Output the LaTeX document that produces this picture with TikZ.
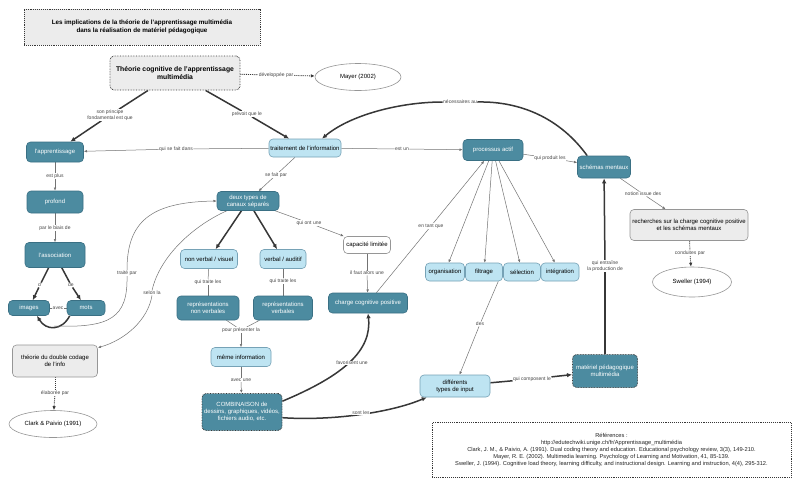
\documentclass[tikz,border=0pt]{standalone}
\usepackage{fontspec}
\setmainfont{Liberation Sans}
\usetikzlibrary{shapes.geometric,arrows.meta}
\pgfdeclarelayer{bg}
\pgfdeclarelayer{paper}
\pgfsetlayers{paper,bg,main}
\definecolor{tealA}{RGB}{76,139,160}
\definecolor{tealB}{RGB}{58,112,132}
\definecolor{lbA}{RGB}{190,228,242}
\definecolor{lbB}{RGB}{118,162,182}
\definecolor{gbA}{RGB}{236,236,236}
\definecolor{gbB}{RGB}{150,150,150}
\definecolor{lnK}{RGB}{55,55,55}
\definecolor{lnT}{RGB}{115,115,115}
\definecolor{txL}{RGB}{70,70,70}
\begin{document}
\begin{tikzpicture}[x=1pt,y=-1pt,
 box/.style={rectangle,rounded corners=4pt,align=center,inner sep=1pt,font=\fontsize{6}{7}\selectfont,line width=0.6pt},
 dark/.style={box,fill=tealA,draw=tealB,text=white},
 darkdot/.style={box,fill=tealA,draw=lnK,densely dotted,line width=0.9pt,text=white},
 light/.style={box,fill=lbA,draw=lbB,text=black},
 grey/.style={box,fill=gbA,draw=gbB},
 ell/.style={ellipse,draw=gbB,fill=white,inner sep=1pt,line width=0.6pt,font=\fontsize{6}{7}\selectfont},
 lbl/.style={fill=white,inner sep=0.4pt,font=\fontsize{5}{5.8}\selectfont,text=txL,align=center},
 tline/.style={draw=lnT,line width=0.5pt},
 tarr/.style={tline,-{Latex[length=3.2pt,width=2.6pt]}},
 kline/.style={draw=lnK,line width=1.5pt},
 karr/.style={kline,-{Latex[length=5pt,width=4.5pt]}},
 dotline/.style={draw=lnK,line width=0.9pt,densely dotted},
 dotarr/.style={dotline,-{Latex[length=4pt,width=3.5pt]}},
]
\useasboundingbox (0,0) rectangle (800,491);
\begin{pgfonlayer}{paper}
\fill[white] (0,0) rectangle (800,491);
\end{pgfonlayer}

% ---- concept nodes
\node[draw=lnK,densely dotted,line width=0.9pt,fill=gbA,minimum width=236pt,minimum height=36pt,align=center,font=\bfseries\fontsize{6.3}{7.6}\selectfont] (title) at (142,27) {Les implications de la théorie de l'apprentissage multimédia\\dans la réalisation de matériel pédagogique};
\node[grey,draw=lnK,densely dotted,line width=0.9pt,minimum width=130pt,minimum height=34pt,font=\bfseries\fontsize{6.8}{8.2}\selectfont] (theo) at (175,73) {Théorie cognitive de l'apprentissage\\multimédia};
\node[ell,minimum width=86pt,minimum height=27pt] (mayer) at (358,77) {Mayer (2002)};

\node[dark,minimum width=57pt,minimum height=20pt] (appr) at (55,152) {l'apprentissage};
\node[dark,minimum width=56pt,minimum height=22pt] (prof) at (55,202) {profond};
\node[dark,minimum width=60pt,minimum height=25pt] (assoc) at (55,255) {l'association};
\node[dark,minimum width=41pt,minimum height=15pt] (img) at (29,308) {images};
\node[dark,minimum width=38pt,minimum height=15pt] (mots) at (86,308) {mots};
\node[grey,minimum width=85pt,minimum height=32pt] (dbl) at (55,361) {théorie du double codage\\de l'info};
\node[ell,minimum width=88pt,minimum height=27pt] (clark) at (53,424) {Clark \& Paivio (1991)};

\node[light,minimum width=72pt,minimum height=18pt] (trait) at (305,148) {traitement de l'information};
\node[dark,minimum width=62pt,minimum height=19pt] (deux) at (248,201) {deux types de\\canaux séparés};
\node[light,minimum width=57pt,minimum height=19pt] (nv) at (209,259) {non verbal / visuel};
\node[light,minimum width=46pt,minimum height=19pt] (vb) at (283,259) {verbal / auditif};
\node[box,draw=gbB,fill=white,minimum width=47pt,minimum height=17pt] (capa) at (367,245) {capacité limitée};
\node[dark,minimum width=62pt,minimum height=24pt] (rnv) at (208,308) {représentations\\non verbales};
\node[dark,minimum width=59pt,minimum height=24pt] (rv) at (283,308) {représentations\\verbales};
\node[dark,minimum width=79pt,minimum height=20pt] (charge) at (368,303) {charge cognitive positive};
\node[light,minimum width=60pt,minimum height=19pt] (meme) at (241,357) {même information};
\node[darkdot,minimum width=80pt,minimum height=37pt] (comb) at (242,412) {COMBINAISON de\\dessins, graphiques, vidéos,\\fichiers audio, etc.};

\node[dark,minimum width=60pt,minimum height=21pt] (proc) at (493,150) {processus actif};
\node[dark,minimum width=53pt,minimum height=22pt] (schem) at (604,167) {schémas mentaux};
\node[light,minimum width=39pt,minimum height=18pt] (org) at (445,272) {organisation};
\node[light,minimum width=37pt,minimum height=18pt] (filt) at (484,272) {filtrage};
\node[light,minimum width=37pt,minimum height=18pt] (sel) at (522,272) {sélection};
\node[light,minimum width=38pt,minimum height=18pt] (integ) at (560,272) {intégration};
\node[grey,minimum width=118pt,minimum height=31pt] (rech) at (689,225) {recherches sur la charge cognitive positive\\et les schémas mentaux};
\node[ell,minimum width=79pt,minimum height=30pt] (swel) at (692,282) {Sweller (1994)};
\node[light,minimum width=70pt,minimum height=22pt] (diff) at (455,386) {différents\\types de input};
\node[darkdot,minimum width=65pt,minimum height=33pt] (mat) at (605,371) {matériel pédagogique\\multimédia};

\node[draw=lnK,densely dotted,line width=0.9pt,minimum width=359pt,minimum height=55pt,align=center,text=black!85,font=\fontsize{5.7}{6.8}\selectfont] (refs) at (611.5,450) {Références :\\
http://edutechwiki.unige.ch/fr/Apprentissage\_multimédia\\
Clark, J. M., \& Paivio, A. (1991). Dual coding theory and education. Educational psychology review, 3(3), 149-210.\\
Mayer, R. E. (2002). Multimedia learning. Psychology of Learning and Motivation, 41, 85-139.\\
Sweller, J. (1994). Cognitive load theory, learning difficulty, and instructional design. Learning and instruction, 4(4), 295-312.};

% ---- linking phrases
\node[lbl] (Ldev) at (276,75) {développée par};
\node[lbl] (Lson) at (110,115) {son principe\\fondamental est que};
\node[lbl] (Lprev) at (247,114) {prévoit que le};
\node[lbl] (Lsfd) at (176,149) {qui se fait dans};
\node[lbl] (Lestun) at (402,149) {est un};
\node[lbl] (Lsfp) at (276,175) {se fait par};
\node[lbl] (Lnec) at (460,102) {nécessaires au};
\node[lbl] (Lprod) at (550,158) {qui produit les};
\node[lbl] (Lplus) at (55,176) {est plus};
\node[lbl] (Lbiais) at (55,228) {par le biais de};
\node[lbl] (Ld) at (40,285) {d'};
\node[lbl] (Lde) at (71,285) {de};
\node[lbl] (Lavec) at (58,308) {avec};
\node[lbl] (Ltp) at (127,273) {traité par};
\node[lbl] (Lsl) at (152,293) {selon la};
\node[lbl] (Lqou) at (309,223) {qui ont une};
\node[lbl] (Lqt1) at (208,282) {qui traite les};
\node[lbl] (Lqt2) at (283,281) {qui traite les};
\node[lbl] (Lpp) at (241,330) {pour présenter la};
\node[lbl] (Lau) at (241,380) {avec une};
\node[lbl] (Lfaut) at (367,273) {il faut alors une};
\node[lbl] (Ltq) at (431,226) {en tant que};
\node[lbl] (Ldes) at (480,324) {des};
\node[lbl] (Lfav) at (352,363) {favorisent une};
\node[lbl] (Lsont) at (361,413) {sont les};
\node[lbl] (Lcomp) at (532,379) {qui composent le};
\node[lbl] (Lentr) at (605,266) {qui entraîne\\la production de};
\node[lbl] (Lnot) at (643,194) {notion issue des};
\node[lbl] (Lcond) at (690,253) {conduites par};
\node[lbl] (Lelab) at (55,393) {élaborée par};

% ---- connectors
\begin{pgfonlayer}{bg}
\draw[dotline] (theo) -- (Ldev); \draw[dotarr] (Ldev) -- (mayer);
\draw[kline] (theo) -- (Lson); \draw[karr] (Lson) -- (appr);
\draw[kline] (theo) -- (Lprev); \draw[karr] (Lprev) -- (trait);
\draw[tline] (trait) -- (Lsfd); \draw[tarr] (Lsfd) -- (appr);
\draw[tline] (trait) -- (Lestun); \draw[tarr] (Lestun) -- (proc);
\draw[tline] (trait) -- (Lsfp); \draw[tarr] (Lsfp) -- (deux);
\draw[kline] ([xshift=10pt]schem.north west) .. controls (560,118) and (520,101) .. (Lnec.east);
\draw[karr] (Lnec.west) .. controls (400,102) and (350,115) .. ([xshift=17pt]trait.north);
\draw[tline] (proc) -- (Lprod); \draw[tarr] (Lprod) -- (schem);
\draw[tline] (appr) -- (Lplus); \draw[tarr] (Lplus) -- (prof);
\draw[tline] (prof) -- (Lbiais); \draw[tarr] (Lbiais) -- (assoc);
\draw[kline] (assoc) -- (Ld); \draw[karr] (Ld) -- (img);
\draw[kline] (assoc) -- (Lde); \draw[karr] (Lde) -- (mots);
\draw[tline] (img) -- (Lavec); \draw[tline] (Lavec) -- (mots);
\draw[karr] ([xshift=3pt]mots.south west) .. controls (62,331) and (46,331) .. ([xshift=8pt]img.south);
\coordinate (arcb) at (54,326);
\draw[tline] (arcb) .. controls (110,328) and (128,318) .. (Ltp.south);
\draw[tarr] (Ltp.north) .. controls (127,222) and (150,202) .. (deux.west);
\draw[tline] ([xshift=10pt]deux.south west) .. controls (195,225) and (160,255) .. (Lsl.north);
\draw[tarr] (Lsl.south) .. controls (148,320) and (125,340) .. ([yshift=-3pt]dbl.north east);
\draw[karr] (deux) -- (nv);
\draw[karr] (deux) -- (vb);
\draw[tline] (deux) -- (Lqou); \draw[tarr] (Lqou) -- (capa);
\draw[tline] (nv) -- (Lqt1); \draw[tline] (Lqt1) -- (rnv);
\draw[tline] (vb) -- (Lqt2); \draw[tline] (Lqt2) -- (rv);
\draw[tline] (rnv) -- (Lpp); \draw[tline] (rv) -- (Lpp); \draw[tarr] (Lpp) -- (meme);
\draw[tline] (meme) -- (Lau); \draw[tarr] (Lau) -- (comb);
\draw[tline] (capa) -- (Lfaut); \draw[tarr] (Lfaut) -- (charge);
\draw[tline] (charge) -- (Ltq); \draw[tarr] (Ltq) -- (proc);
\draw[tarr] (proc) -- (org);
\draw[tarr] (proc) -- (filt);
\draw[tarr] (proc) -- (sel);
\draw[tarr] (proc) -- (integ);
\draw[tline] ([xshift=-4.5pt]filt.south east) -- (Ldes); \draw[tarr] (Ldes) -- (diff);
\draw[karr] (comb.15) .. controls (345,375) and (372,350) .. (charge.south);
\draw[karr] (comb.-8) .. controls (330,421) and (390,413) .. ([xshift=7pt]diff.south west);
\draw[kline] (diff) -- (Lcomp); \draw[karr] (Lcomp) -- (mat);
\draw[kline] (mat) -- (Lentr); \draw[karr] (Lentr) -- (schem);
\draw[tline] (schem) -- (Lnot); \draw[tarr] (Lnot) -- (rech);
\draw[dotline] (rech) -- (Lcond); \draw[dotarr] (Lcond) -- (swel);
\draw[dotline] (dbl) -- (Lelab); \draw[dotarr] (Lelab) -- (clark);
\end{pgfonlayer}
\end{tikzpicture}
\end{document}
